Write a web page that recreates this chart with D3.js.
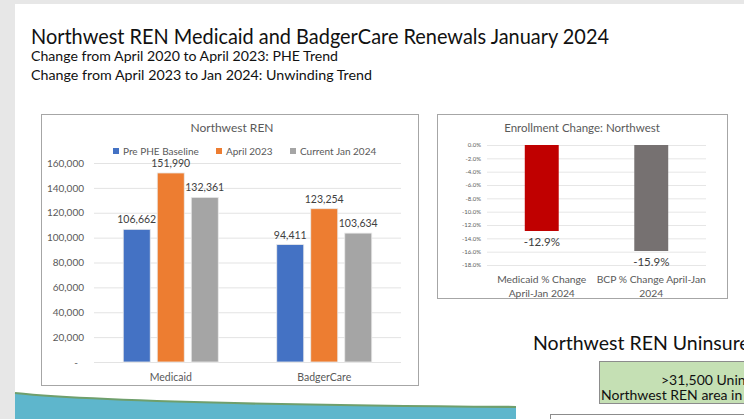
<!DOCTYPE html>
<html>
<head>
<meta charset="utf-8">
<script src="https://cdn.jsdelivr.net/npm/d3@7"></script>
<style>
  html, body { margin: 0; padding: 0; background: #e7e7e7; }
  svg { display: block; }
  text { font-family: Lato, "Open Sans", "Noto Sans", sans-serif; }
</style>
</head>
<body>
<svg id="chart" width="744" height="419"></svg>
<script>
// ---------- DATA ----------
const categories = ["Medicaid", "BadgerCare"];
const seriesNames = ["Pre PHE Baseline", "April 2023", "Current Jan 2024"];
const preBaseline = [106662, 94411];
const april2023 = [151990, 123254];
const currentJan2024 = [132361, 103634];
const enrollmentTicks = [0, 20000, 40000, 60000, 80000, 100000, 120000, 140000, 160000];

const changeCategories = [
  ["Medicaid % Change", "April-Jan 2024"],
  ["BCP % Change April-Jan", "2024"]
];
const changeValues = [-12.9, -15.9];
const changeTicks = [0, -2, -4, -6, -8, -10, -12, -14, -16, -18];

const seriesColors = ["#4472C4", "#ED7D31", "#A5A5A5"];
const changeColors = ["#C00000", "#767171"];

const pct = v => v.toFixed(1) + "%";

// ---------- SLIDE ----------
const svg = d3.select("#chart");
svg.append("rect").attr("x", 0).attr("y", 0).attr("width", 744).attr("height", 419).attr("fill", "#e7e7e7");
svg.append("rect").attr("x", 15).attr("y", 4).attr("width", 729).attr("height", 415).attr("fill", "#ffffff");

svg.append("text").attr("x", 31).attr("y", 44)
  .attr("font-size", 21).attr("fill", "#111")
  .attr("textLength", 578).attr("lengthAdjust", "spacingAndGlyphs")
  .text("Northwest REN Medicaid and BadgerCare Renewals January 2024");
svg.append("text").attr("x", 31).attr("y", 61)
  .attr("font-size", 14).attr("fill", "#111")
  .attr("textLength", 307).attr("lengthAdjust", "spacingAndGlyphs")
  .text("Change from April 2020 to April 2023: PHE Trend");
svg.append("text").attr("x", 31).attr("y", 80)
  .attr("font-size", 14).attr("fill", "#111")
  .attr("textLength", 341).attr("lengthAdjust", "spacingAndGlyphs")
  .text("Change from April 2023 to Jan 2024: Unwinding Trend");

// ---------- CHART 1 ----------
const c1 = svg.append("g");
c1.append("rect").attr("x", 41.5).attr("y", 114.5).attr("width", 377).attr("height", 271)
  .attr("fill", "#fff").attr("stroke", "#a6a6a6").attr("stroke-width", 1);
c1.append("text").attr("x", 232).attr("y", 132).attr("text-anchor", "middle")
  .attr("font-size", 12).attr("fill", "#595959").text("Northwest REN");

const y1 = d3.scaleLinear().domain([0, 160000]).range([362, 163]);
const x0 = d3.scaleBand().domain(categories).range([94, 401]).paddingInner(0.381).paddingOuter(0.1905);
const x1 = d3.scaleBand().domain(seriesNames).range([0, x0.bandwidth()]).paddingInner(0.206);

// gridlines
const grid1 = c1.append("g").attr("transform", "translate(94,0)")
  .call(d3.axisLeft(y1).tickValues(enrollmentTicks).tickSize(-307).tickFormat(""));
grid1.select(".domain").remove();
grid1.selectAll("line").attr("stroke", "#e3e3e3");

// y axis labels
const ax1 = c1.append("g").attr("transform", "translate(84,0)")
  .call(d3.axisLeft(y1).tickValues(enrollmentTicks).tickSize(0).tickPadding(0)
    .tickFormat(d => d === 0 ? "-" : d3.format(",")(d)));
ax1.select(".domain").remove();
ax1.selectAll("text").attr("font-size", 10).attr("fill", "#595959").attr("font-family", "Lato, sans-serif");
ax1.selectAll(".tick").filter(d => d === 0).select("text").attr("dx", -6);

// bars
const seriesData = [preBaseline, april2023, currentJan2024];
const barRows = [];
categories.forEach((c, i) => seriesNames.forEach((s, j) => barRows.push({ c, s, j, v: seriesData[j][i] })));
c1.append("g").selectAll("rect").data(barRows).join("rect")
  .attr("x", d => x0(d.c) + x1(d.s))
  .attr("y", d => y1(d.v))
  .attr("width", x1.bandwidth())
  .attr("height", d => y1(0) - y1(d.v))
  .attr("fill", d => seriesColors[d.j])
  .attr("stroke", "#eaeaea").attr("stroke-width", 0.8);
c1.append("g").selectAll("text").data(barRows).join("text")
  .attr("x", d => x0(d.c) + x1(d.s) + x1.bandwidth() / 2)
  .attr("y", d => y1(d.v) - 6)
  .attr("text-anchor", "middle").attr("font-size", 10.5).attr("fill", "#404040")
  .text(d => d3.format(",")(d.v));

// category labels
c1.append("g").selectAll("text").data(categories).join("text")
  .attr("x", d => x0(d) + x0.bandwidth() / 2).attr("y", 381)
  .attr("text-anchor", "middle").attr("font-size", 10.5).attr("fill", "#595959")
  .text(d => d);

// legend
const legendX = [113, 216, 290];
const lg = c1.append("g").selectAll("g").data(seriesNames).join("g")
  .attr("transform", (d, i) => `translate(${legendX[i]},151)`);
lg.append("rect").attr("x", 0).attr("y", -3).attr("width", 6).attr("height", 6).attr("fill", (d, i) => seriesColors[i]);
lg.append("text").attr("x", 10).attr("y", 4).attr("font-size", 10).attr("fill", "#595959").text(d => d);

// ---------- CHART 2 ----------
const c2 = svg.append("g");
c2.append("rect").attr("x", 437.5).attr("y", 114.5).attr("width", 290).attr("height", 184)
  .attr("fill", "#fff").attr("stroke", "#a6a6a6").attr("stroke-width", 1);
c2.append("text").attr("x", 582).attr("y", 132).attr("text-anchor", "middle")
  .attr("font-size", 11.5).attr("fill", "#595959").text("Enrollment Change: Northwest");

const y2 = d3.scaleLinear().domain([-18, 0]).range([265, 145]);
const xc = d3.scaleBand().domain(changeCategories.map(d => d.join(" "))).range([487, 706]).paddingInner(0.69).paddingOuter(0.345);

const grid2 = c2.append("g").attr("transform", "translate(487,0)")
  .call(d3.axisLeft(y2).tickValues(changeTicks).tickSize(-219).tickFormat(""));
grid2.select(".domain").remove();
grid2.selectAll("line").attr("stroke", "#e6e6e6");

const ax2 = c2.append("g").attr("transform", "translate(481,0)")
  .call(d3.axisLeft(y2).tickValues(changeTicks).tickSize(0).tickPadding(0).tickFormat(pct));
ax2.select(".domain").remove();
ax2.selectAll("text").attr("font-size", 6).attr("fill", "#595959").attr("font-family", "Lato, sans-serif");

const changeRows = changeCategories.map((c, i) => ({ key: c.join(" "), lines: c, v: changeValues[i], i }));
c2.append("g").selectAll("rect").data(changeRows).join("rect")
  .attr("x", d => xc(d.key)).attr("y", y2(0))
  .attr("width", xc.bandwidth()).attr("height", d => y2(d.v) - y2(0))
  .attr("fill", d => changeColors[d.i]);
c2.append("g").selectAll("text").data(changeRows).join("text")
  .attr("x", d => xc(d.key) + xc.bandwidth() / 2).attr("y", d => y2(d.v) + 15)
  .attr("text-anchor", "middle").attr("font-size", 11.5).attr("fill", "#404040")
  .text(d => pct(d.v));
const catG = c2.append("g").selectAll("text").data(changeRows).join("text")
  .attr("text-anchor", "middle").attr("font-size", 10.3).attr("fill", "#595959");
catG.selectAll("tspan").data(d => d.lines.map(l => ({ l, x: xc(d.key) + xc.bandwidth() / 2 }))).join("tspan")
  .attr("x", d => d.x).attr("y", (d, i) => 283 + i * 14).text(d => d.l);

// ---------- OTHER SLIDE CONTENT ----------
svg.append("text").attr("x", 533).attr("y", 350).attr("font-size", 19.5).attr("fill", "#111")
  .text("Northwest REN Uninsured");
svg.append("rect").attr("x", 599.5).attr("y", 361.5).attr("width", 160).attr("height", 42)
  .attr("fill", "#c5e0b4").attr("stroke", "#8c8c8c");
svg.append("text").attr("x", 661).attr("y", 385).attr("font-size", 14).attr("fill", "#111").text(">31,500 Uninsured");
svg.append("text").attr("x", 601).attr("y", 400).attr("font-size", 14).attr("fill", "#111").text("Northwest REN area in");
svg.append("rect").attr("x", 550.5).attr("y", 414.5).attr("width", 210).attr("height", 20)
  .attr("fill", "#fff").attr("stroke", "#8c8c8c");

// bottom wave decoration
svg.append("path").attr("d", "M15,419 L15,393 Q120,404 516,407 L516,419 Z").attr("fill", "#5eb6cc");
svg.append("path").attr("d", "M15,393 Q120,404 516,407").attr("fill", "none").attr("stroke", "#6f9f6c").attr("stroke-width", 2.2);
</script>
</body>
</html>
